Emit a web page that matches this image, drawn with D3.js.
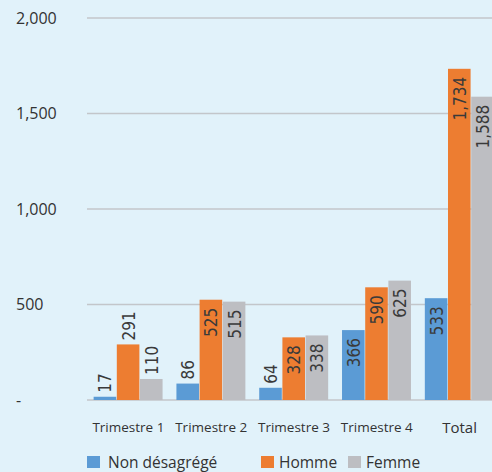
<!DOCTYPE html>
<html>
<head>
<meta charset="utf-8">
<script src="https://cdn.jsdelivr.net/npm/d3@7"></script>
<style>
  body { margin: 0; background: #e1f2fa; }
  svg { display: block; }
</style>
</head>
<body>
<div id="vis1"></div>
<script>
// Données
const categories = ["Trimestre 1", "Trimestre 2", "Trimestre 3", "Trimestre 4", "Total"];
const series = ["Non désagrégé", "Homme", "Femme"];
const nonDesagrege = [17, 86, 64, 366, 533];
const homme = [291, 525, 328, 590, 1734];
const femme = [110, 515, 338, 625, 1588];
const yTicks = [0, 500, 1000, 1500, 2000];
const yTickLabels = ["-", "500", "1,000", "1,500", "2,000"];

const colors = ["#5b9bd5", "#ed7d31", "#bdbec2"];

const WIDTH = 492;
const HEIGHT = 472;

const svg = d3.select("#vis1")
    .append("svg")
    .attr("width", WIDTH)
    .attr("height", HEIGHT);

svg.append("rect")
    .attr("width", WIDTH)
    .attr("height", HEIGHT)
    .attr("fill", "#e1f2fa");

// Escalas
const y = d3.scaleLinear().domain([0, 2000]).range([400, 18]);
const x0 = d3.scaleBand()
    .domain(categories)
    .range([87, 501])
    .paddingInner(0.16)
    .paddingOuter(0.08);
const x1 = d3.scaleBand()
    .domain(series)
    .range([0, x0.bandwidth()]);

// Grille + labels axe y
const grid = svg.append("g");
grid.selectAll("line")
    .data(yTicks)
    .enter()
    .append("line")
    .attr("x1", 87)
    .attr("x2", WIDTH)
    .attr("y1", d => y(d))
    .attr("y2", d => y(d))
    .attr("stroke", "#c3c6ca")
    .attr("stroke-width", 1.3);

grid.selectAll("text")
    .data(yTicks)
    .enter()
    .append("text")
    .attr("x", 16)
    .attr("y", d => y(d))
    .attr("dy", "0.35em")
    .attr("font-family", "'Open Sans', sans-serif")
    .attr("font-size", 16)
    .attr("fill", "#333")
    .text((d, i) => yTickLabels[i]);

// Barres
const rows = categories.map((c, i) => ({
    cat: c,
    values: [nonDesagrege[i], homme[i], femme[i]].map((v, j) => ({ key: series[j], value: v, idx: j }))
}));

const groups = svg.selectAll("g.group")
    .data(rows)
    .enter()
    .append("g")
    .attr("class", "group")
    .attr("transform", d => `translate(${x0(d.cat)},0)`);

groups.selectAll("rect")
    .data(d => d.values)
    .enter()
    .append("rect")
    .attr("x", d => x1(d.key))
    .attr("y", d => y(d.value))
    .attr("width", x1.bandwidth() - 0.6)
    .attr("height", d => y(0) - y(d.value))
    .attr("fill", d => colors[d.idx]);

// Valeurs (texte vertical)
const fmt = d3.format(",");
groups.selectAll("text.val")
    .data(d => d.values)
    .enter()
    .append("text")
    .attr("class", "val")
    .attr("transform", d => {
        const cx = x1(d.key) + x1.bandwidth() / 2;
        const inside = d.value >= 300;
        const ty = inside ? y(d.value) + 8 : y(d.value) - 4;
        return `translate(${cx},${ty}) rotate(-90)`;
    })
    .attr("text-anchor", d => d.value >= 300 ? "end" : "start")
    .attr("dy", "0.36em")
    .attr("font-family", "'Liberation Sans Narrow', 'DejaVu Sans Condensed', sans-serif")
    .attr("font-size", 17)
    .attr("fill", "#3a3a3a")
    .text(d => fmt(d.value));

// Labels catégories
svg.selectAll("text.cat")
    .data(categories)
    .enter()
    .append("text")
    .attr("class", "cat")
    .attr("x", d => x0(d) + x0.bandwidth() / 2)
    .attr("y", d => d === "Total" ? 433 : 432)
    .attr("text-anchor", "middle")
    .attr("font-family", "'Open Sans', sans-serif")
    .attr("font-size", d => d === "Total" ? 15 : 13.5)
    .attr("fill", "#333")
    .text(d => d);

// Légende
const legendX = [87, 261, 348];
const legend = svg.selectAll("g.legend")
    .data(series)
    .enter()
    .append("g")
    .attr("class", "legend")
    .attr("transform", (d, i) => `translate(${legendX[i]},456)`);

legend.append("rect")
    .attr("width", 13)
    .attr("height", 12)
    .attr("fill", (d, i) => colors[i]);

legend.append("text")
    .attr("x", (d, i) => i === 0 ? 21 : 18)
    .attr("y", 11.5)
    .attr("font-family", "'Open Sans', sans-serif")
    .attr("font-size", 15.5)
    .attr("fill", "#333")
    .text(d => d);
</script>
</body>
</html>
